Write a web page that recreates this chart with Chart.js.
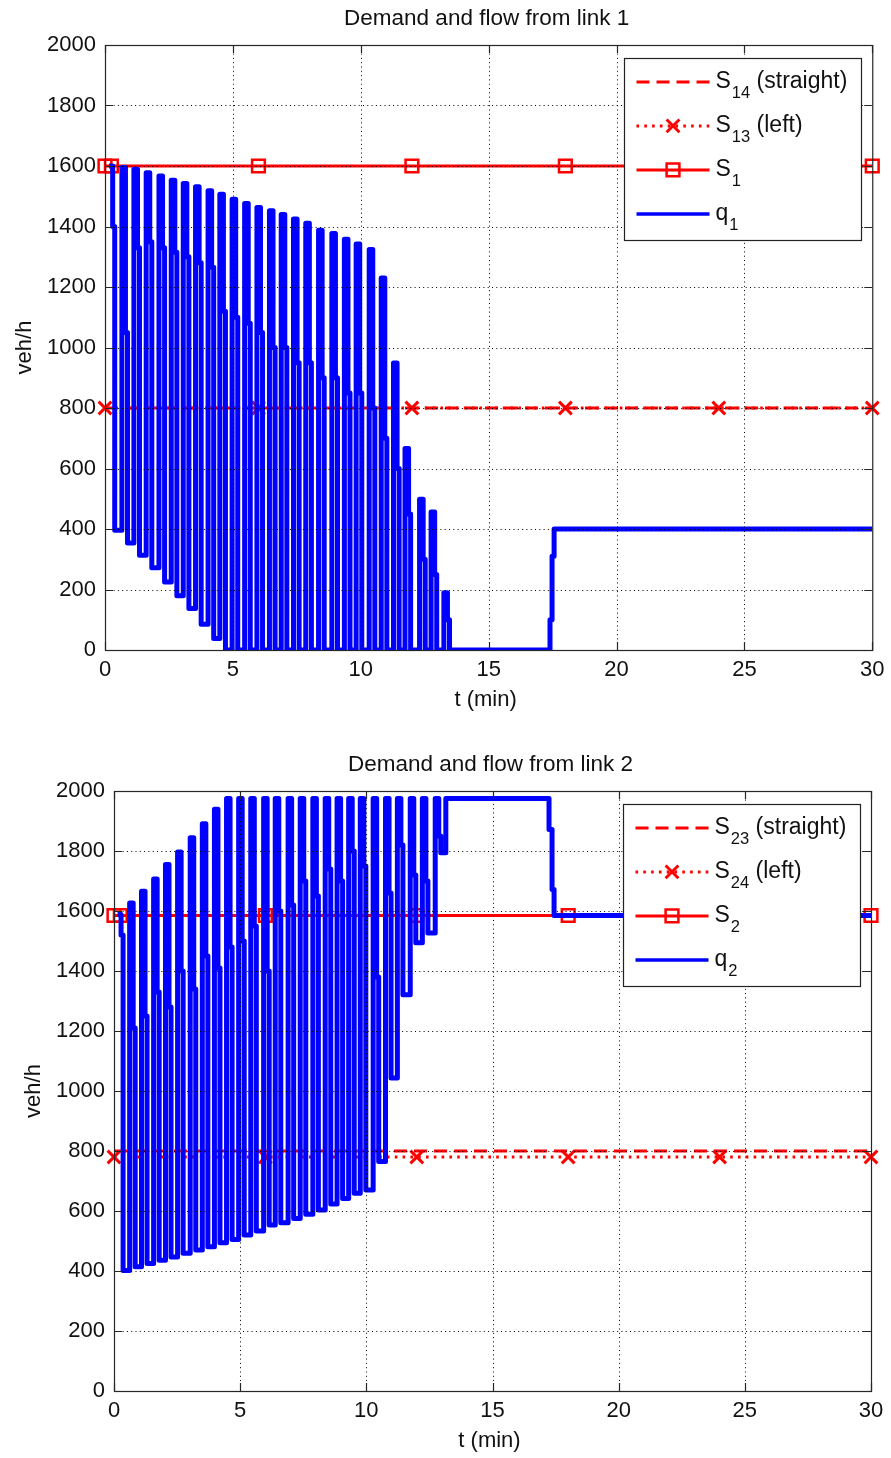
<!DOCTYPE html>
<html>
<head>
<meta charset="utf-8">
<script src="https://cdn.jsdelivr.net/npm/chart.js@4.4.1/dist/chart.umd.min.js"></script>
<style>
  html, body { margin: 0; padding: 0; background: #fff; }
  #wrap { position: relative; width: 891px; height: 1458px; }
  canvas { position: absolute; left: 0; }
</style>
</head>
<body>
<div id="wrap">
  <canvas id="link1" width="891" height="729" style="top:0"></canvas>
  <canvas id="link2" width="891" height="729" style="top:729px"></canvas>
</div>
<script>
// Demand and flow from two signalised links, t in minutes, flows in veh/h.

const xTicks = [0, 5, 10, 15, 20, 25, 30];
const yTicks = [0, 200, 400, 600, 800, 1000, 1200, 1400, 1600, 1800, 2000];

// ---- link 1 ----
const link1Title = 'Demand and flow from link 1';
const link1Legend = [['S', '14', ' (straight)'], ['S', '13', ' (left)'], ['S', '1', ''], ['q', '1', '']];
const s14 = 800;
const s13 = 800;
const s1 = 1600;
const s13Marks = [0, 6, 12, 18, 24, 30];
const s1Marks = [0, 0.25, 6, 12, 18, 24, 30];
// one entry per green/red cycle: start time, peak, intermediate step, trough
const q1Start = [0.16, 0.66, 1.13, 1.61, 2.11, 2.59, 3.06, 3.54, 4.03, 4.49, 4.97, 5.46, 5.94, 6.43,
  6.89, 7.37, 7.85, 8.35, 8.87, 9.36, 9.82, 10.33, 10.80, 11.28, 11.73, 12.30, 12.75, 13.25];
const q1Peak = [1600, 1595, 1589, 1578, 1567, 1553, 1542, 1531, 1518, 1507, 1490, 1476, 1463, 1452,
  1440, 1425, 1411, 1388, 1377, 1358, 1342, 1324, 1230, 949, 666, 498, 456, 189];
const q1Step = [1400, 1050, 1330, 1350, 1330, 1315, 1300, 1280, 1265, 1120, 1100, 1080, 1050, 1000,
  1000, 950, 950, 900, 900, 850, 850, 800, 700, 600, 450, 300, 250, 100];
const q1Trough = [396, 354, 313, 272, 225, 179, 137, 85, 38, 0, 0, 0, 0, 0,
  0, 0, 0, 0, 0, 0, 0, 0, 0, 0, 0, 0, 0, 0];
const q1TailT = [17.40, 17.48, 17.56, 30];
const q1TailV = [100, 310, 400, 400];

// ---- link 2 ----
const link2Title = 'Demand and flow from link 2';
const link2Legend = [['S', '23', ' (straight)'], ['S', '24', ' (left)'], ['S', '2', ''], ['q', '2', '']];
const s23 = 800;
const s24 = 780;
const s2 = 1585;
const s24Marks = [0, 6, 12, 18, 24, 30];
const s2Marks = [0, 0.25, 6, 12, 18, 24, 30];
const q2Start = [0.14, 0.62, 1.09, 1.57, 2.04, 2.52, 3.02, 3.50, 3.98, 4.46, 4.94, 5.42, 5.93, 6.39,
  6.90, 7.38, 7.88, 8.37, 8.84, 9.30, 9.76, 10.27, 10.76, 11.23, 11.74, 12.22, 12.73];
const q2Peak = [1588, 1627, 1666, 1707, 1755, 1797, 1844, 1891, 1939, 1975, 1975, 1975, 1975, 1975,
  1975, 1975, 1975, 1975, 1975, 1975, 1975, 1975, 1975, 1975, 1975, 1975, 1975];
const q2Step = [1520, 1210, 1250, 1330, 1280, 1400, 1340, 1450, 1410, 1480, 1500, 1550, 1400, 1600,
  1620, 1700, 1650, 1740, 1700, 1800, 1750, 1380, 1660, 1820, 1720, 1700, 1850];
const q2Trough = [402, 414, 425, 436, 447, 459, 470, 481, 494, 505, 520, 533, 553, 561,
  575, 589, 603, 623, 642, 659, 670, 765, 1043, 1321, 1494, 1527, 1794];
const q2TailT = [13.15, 17.24, 17.36, 17.44, 30];
const q2TailV = [1975, 1872, 1672, 1585, 1585];

const RED = '#ff0000';
const BLUE = '#0000ff';
const INK = '#111';
const FONT = '"Liberation Sans", Arial, sans-serif';
const W = 891, H = 729;

// within a cycle the flow holds the peak, drops to the step value, then to the trough
const DROP_A = 0.14, DROP_B = 0.22;

function flowPoints(start, peak, step, trough, tailT, tailV) {
  const pts = [];
  start.forEach((t, i) => {
    pts.push({ x: t, y: peak[i] }, { x: t + DROP_A, y: step[i] }, { x: t + DROP_B, y: trough[i] });
  });
  tailT.forEach((t, i) => pts.push({ x: t, y: tailV[i] }));
  return pts;
}

const level = (xs, v) => xs.map(x => ({ x, y: v }));

function drawMarker(ctx, style, cx, cy) {
  ctx.beginPath();
  if (style === 'rect') {
    ctx.lineWidth = 2.5;
    ctx.rect(cx - 6.4, cy - 6.4, 12.8, 12.8);
  } else if (style === 'crossRot') {
    ctx.lineWidth = 3;
    ctx.moveTo(cx - 6.4, cy - 6.4); ctx.lineTo(cx + 6.4, cy + 6.4);
    ctx.moveTo(cx - 6.4, cy + 6.4); ctx.lineTo(cx + 6.4, cy - 6.4);
  }
  ctx.stroke();
}

// MATLAB-style box: dotted grid on top, inward ticks, legend, title, axis labels
function axesBox(spec) {
  return {
    id: 'axesBox',
    afterDatasetsDraw(chart) {
      const { ctx, chartArea: a, scales: { x, y } } = chart;
      ctx.save();

      ctx.strokeStyle = '#000';
      ctx.lineWidth = 1;
      ctx.setLineDash([1, 3.3]);
      ctx.beginPath();
      x.ticks.forEach(t => {
        const px = Math.round(x.getPixelForValue(t.value)) + 0.5;
        if (px > a.left + 2 && px < a.right - 2) { ctx.moveTo(px, a.top); ctx.lineTo(px, a.bottom); }
      });
      y.ticks.forEach(t => {
        const py = Math.round(y.getPixelForValue(t.value)) + 0.5;
        if (py > a.top + 2 && py < a.bottom - 2) { ctx.moveTo(a.left, py); ctx.lineTo(a.right, py); }
      });
      ctx.stroke();
      ctx.setLineDash([]);

      ctx.strokeStyle = '#262626';
      ctx.lineWidth = 1.2;
      ctx.strokeRect(a.left + 0.5, a.top + 0.5, a.right - a.left, a.bottom - a.top);
      ctx.beginPath();
      x.ticks.forEach(t => {
        const px = Math.round(x.getPixelForValue(t.value)) + 0.5;
        ctx.moveTo(px, a.bottom); ctx.lineTo(px, a.bottom - 8);
        ctx.moveTo(px, a.top); ctx.lineTo(px, a.top + 8);
      });
      y.ticks.forEach(t => {
        const py = Math.round(y.getPixelForValue(t.value)) + 0.5;
        ctx.moveTo(a.left, py); ctx.lineTo(a.left + 8, py);
        ctx.moveTo(a.right, py); ctx.lineTo(a.right - 8, py);
      });
      ctx.stroke();

      // legend
      const bw = 237, bh = 182;
      const bx = Math.round(a.right - 11 - bw) + 0.5, by = Math.round(a.top + 12.5) + 0.5;
      ctx.fillStyle = '#fff';
      ctx.fillRect(bx, by, bw, bh);
      ctx.strokeStyle = '#222';
      ctx.lineWidth = 1.2;
      ctx.strokeRect(bx, by, bw, bh);
      chart.data.datasets.forEach((ds, i) => {
        const ry = by + 23.4 + i * 44;
        ctx.strokeStyle = ds.borderColor;
        ctx.lineWidth = Math.min(ds.borderWidth, 3.5);
        ctx.setLineDash(ds.borderDash || []);
        ctx.beginPath();
        ctx.moveTo(bx + 12, ry); ctx.lineTo(bx + 85, ry);
        ctx.stroke();
        ctx.setLineDash([]);
        if (ds.pointRadius) drawMarker(ctx, ds.pointStyle, bx + 48.5, ry);

        const [main, sub, rest] = spec.legend[i];
        let tx = bx + 91;
        ctx.fillStyle = INK;
        ctx.textAlign = 'left';
        ctx.textBaseline = 'alphabetic';
        ctx.font = '23px ' + FONT;
        ctx.fillText(main, tx, ry + 6.5);
        tx += ctx.measureText(main).width + 1;
        ctx.font = '16.5px ' + FONT;
        ctx.fillText(sub, tx, ry + 15.7);
        tx += ctx.measureText(sub).width;
        ctx.font = '23px ' + FONT;
        ctx.fillText(rest, tx, ry + 6.5);
      });

      // title and axis labels
      const cx = (a.left + a.right) / 2;
      ctx.fillStyle = INK;
      ctx.font = '22.5px ' + FONT;
      ctx.textAlign = 'center';
      ctx.textBaseline = 'middle';
      ctx.fillText(spec.title, cx - 2, a.top - 26.5);
      ctx.font = '22px ' + FONT;
      ctx.fillText('t (min)', cx - 3, a.bottom + 50);
      ctx.translate(a.left - 80, (a.top + a.bottom) / 2);
      ctx.rotate(-Math.PI / 2);
      ctx.fillText('veh/h', 0, 0);
      ctx.restore();
    }
  };
}

function makeChart(id, spec, datasets) {
  const tickFont = { family: FONT, size: 22 };
  return new Chart(document.getElementById(id), {
    type: 'line',
    data: { datasets },
    options: {
      responsive: false,
      animation: false,
      events: [],
      layout: { padding: { left: 0, top: spec.top, right: W - spec.right, bottom: 0 } },
      scales: {
        x: {
          type: 'linear', min: xTicks[0], max: xTicks[xTicks.length - 1],
          afterBuildTicks: s => { s.ticks = xTicks.map(v => ({ value: v })); },
          ticks: { font: tickFont, color: INK, padding: 6.5, maxRotation: 0, callback: v => String(v) },
          grid: { display: false, drawTicks: false }, border: { display: false },
          afterFit: s => { s.height = H - spec.bottom; }
        },
        y: {
          type: 'linear', min: yTicks[0], max: yTicks[yTicks.length - 1],
          afterBuildTicks: s => { s.ticks = yTicks.map(v => ({ value: v })); },
          ticks: { font: tickFont, color: INK, padding: 9, autoSkip: false, callback: v => String(v) },
          grid: { display: false, drawTicks: false }, border: { display: false },
          afterFit: s => { s.width = spec.left; }
        }
      },
      plugins: { legend: { display: false }, tooltip: { enabled: false }, title: { display: false } }
    },
    plugins: [axesBox(spec)]
  });
}

function linkDatasets(straight, left, leftMarks, sat, satMarks, flow, names) {
  return [
    { label: names[0], data: level([0, 30], straight), borderColor: RED, borderWidth: 3,
      borderDash: [13, 7], pointRadius: 0, clip: false, order: 4 },
    { label: names[1], data: level(leftMarks, left), borderColor: RED, borderWidth: 3,
      borderDash: [2.6, 5.2], pointStyle: 'crossRot', pointRadius: 9, pointBorderWidth: 3,
      pointBorderColor: RED, clip: false, order: 3 },
    { label: names[2], data: level(satMarks, sat), borderColor: RED, borderWidth: 3,
      pointStyle: 'rect', pointRadius: 9, pointBorderWidth: 2.5, pointBorderColor: RED,
      pointBackgroundColor: 'rgba(0,0,0,0)', clip: false, order: 2 },
    { label: names[3], data: flow, borderColor: BLUE, borderWidth: 5, stepped: true,
      borderJoinStyle: 'round', pointRadius: 0, order: 1 }
  ];
}

makeChart('link1',
  { title: link1Title, legend: link1Legend, left: 105, right: 874, top: 45, bottom: 650 },
  linkDatasets(s14, s13, s13Marks, s1, s1Marks,
    flowPoints(q1Start, q1Peak, q1Step, q1Trough, q1TailT, q1TailV), ['S14', 'S13', 'S1', 'q1']));

makeChart('link2',
  { title: link2Title, legend: link2Legend, left: 114, right: 871, top: 62, bottom: 662 },
  linkDatasets(s23, s24, s24Marks, s2, s2Marks,
    flowPoints(q2Start, q2Peak, q2Step, q2Trough, q2TailT, q2TailV), ['S23', 'S24', 'S2', 'q2']));
</script>
</body>
</html>
